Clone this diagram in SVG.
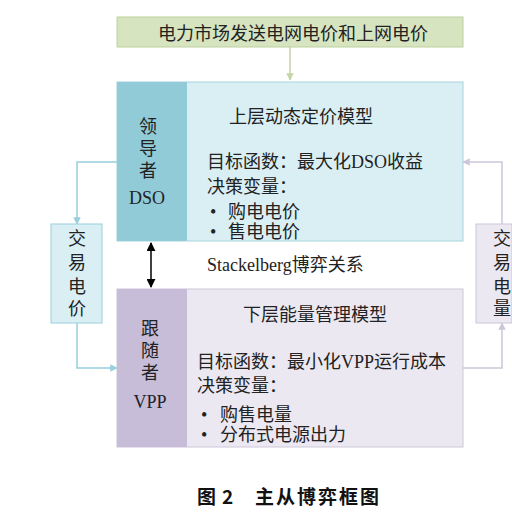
<svg xmlns="http://www.w3.org/2000/svg" width="512" height="512" viewBox="0 0 512 512">
<defs>
<style>
.t{font-family:"Liberation Serif","Noto Sans CJK SC",serif;fill:#222;font-size:18px;}
.c{text-anchor:middle;}
.cap{font-family:"Noto Sans CJK SC","Liberation Sans",sans-serif;font-weight:bold;fill:#111;font-size:19px;}
</style>
<marker id="ag" viewBox="0 0 10 10" refX="9" refY="5" markerWidth="5" markerHeight="5" orient="auto"><path d="M0,0L10,5L0,10z" fill="#c4d5a6"/></marker>
<marker id="ab" viewBox="0 0 10 10" refX="9" refY="5" markerWidth="5" markerHeight="5" orient="auto"><path d="M0,0L10,5L0,10z" fill="#98cfdb"/></marker>
<marker id="ap" viewBox="0 0 10 10" refX="9" refY="5" markerWidth="5" markerHeight="5" orient="auto"><path d="M0,0L10,5L0,10z" fill="#cdc6da"/></marker>
<marker id="ak" viewBox="0 0 10 10" refX="9" refY="5" markerWidth="6" markerHeight="6" orient="auto-start-reverse"><path d="M0,0L10,5L0,10z" fill="#000"/></marker>
</defs>
<rect width="512" height="512" fill="#fff"/>

<g id="connectors" fill="none">
<path d="M290,47V80" stroke="#c4d5a6" stroke-width="1.5" marker-end="url(#ag)"/>
<path d="M117,162H77V224" stroke="#98cfdb" stroke-width="1.5" marker-end="url(#ab)"/>
<path d="M77,323V368H117" stroke="#98cfdb" stroke-width="1.5" marker-end="url(#ab)"/>
<path d="M463,368H502V323" stroke="#cdc6da" stroke-width="1.5" marker-end="url(#ap)"/>
<path d="M502,224V162H463" stroke="#cdc6da" stroke-width="1.5" marker-end="url(#ap)"/>
<path d="M151,243V287" stroke="#000" stroke-width="1.5" marker-start="url(#ak)" marker-end="url(#ak)"/>
</g>

<g id="market">
<rect x="117" y="17" width="346" height="30" fill="#d6e4c0" stroke="#bdd19f"/>
<text class="t" x="158" y="40">电力市场发送电网电价和上网电价</text>
</g>

<g id="dso">
<rect x="117" y="82" width="346" height="159" fill="#daeff4" stroke="#a8d3de"/>
<rect x="117" y="82" width="70" height="159" fill="#92cbd8"/>
<text class="t c" x="148" y="133">领</text>
<text class="t c" x="148" y="155">导</text>
<text class="t c" x="148" y="177">者</text>
<text class="t c" x="147" y="204">DSO</text>
<text class="t" x="229" y="123">上层动态定价模型</text>
<text class="t" x="207" y="168">目标函数：最大化DSO收益</text>
<text class="t" x="207" y="193">决策变量：</text>
<text class="t" x="210" y="218">•</text>
<text class="t" x="228" y="218">购电电价</text>
<text class="t" x="210" y="238">•</text>
<text class="t" x="228" y="238">售电电价</text>
</g>

<g id="stackelberg">
<text class="t" x="207" y="271">Stackelberg博弈关系</text>
</g>

<g id="vpp">
<rect x="117" y="289" width="346" height="158" fill="#ece8f1" stroke="#cfc7db"/>
<rect x="117" y="289" width="70" height="158" fill="#c8bdd9"/>
<text class="t c" x="150" y="335">跟</text>
<text class="t c" x="150" y="357">随</text>
<text class="t c" x="150" y="379">者</text>
<text class="t c" x="150" y="408">VPP</text>
<text class="t" x="243" y="321">下层能量管理模型</text>
<text class="t" x="197" y="368">目标函数：最小化VPP运行成本</text>
<text class="t" x="197" y="392">决策变量：</text>
<text class="t" x="201" y="421">•</text>
<text class="t" x="220" y="421">购售电量</text>
<text class="t" x="201" y="441">•</text>
<text class="t" x="220" y="441">分布式电源出力</text>
</g>

<g id="price">
<rect x="51" y="224" width="51" height="99" fill="#daeff4" stroke="#98cfdb"/>
<text class="t c" x="77" y="245">交</text>
<text class="t c" x="77" y="269">易</text>
<text class="t c" x="77" y="293">电</text>
<text class="t c" x="77" y="315">价</text>
</g>

<g id="quantity">
<rect x="476" y="224" width="36" height="99" fill="#ece8f1" stroke="#cdc6da"/>
<text class="t c" x="502" y="245">交</text>
<text class="t c" x="502" y="269">易</text>
<text class="t c" x="502" y="293">电</text>
<text class="t c" x="502" y="315">量</text>
</g>

<g id="caption">
<text class="cap" x="197" y="504">图</text>
<text class="cap" x="222" y="504">2</text>
<text class="cap" x="255" y="504" letter-spacing="2">主从博弈框图</text>
</g>
</svg>
